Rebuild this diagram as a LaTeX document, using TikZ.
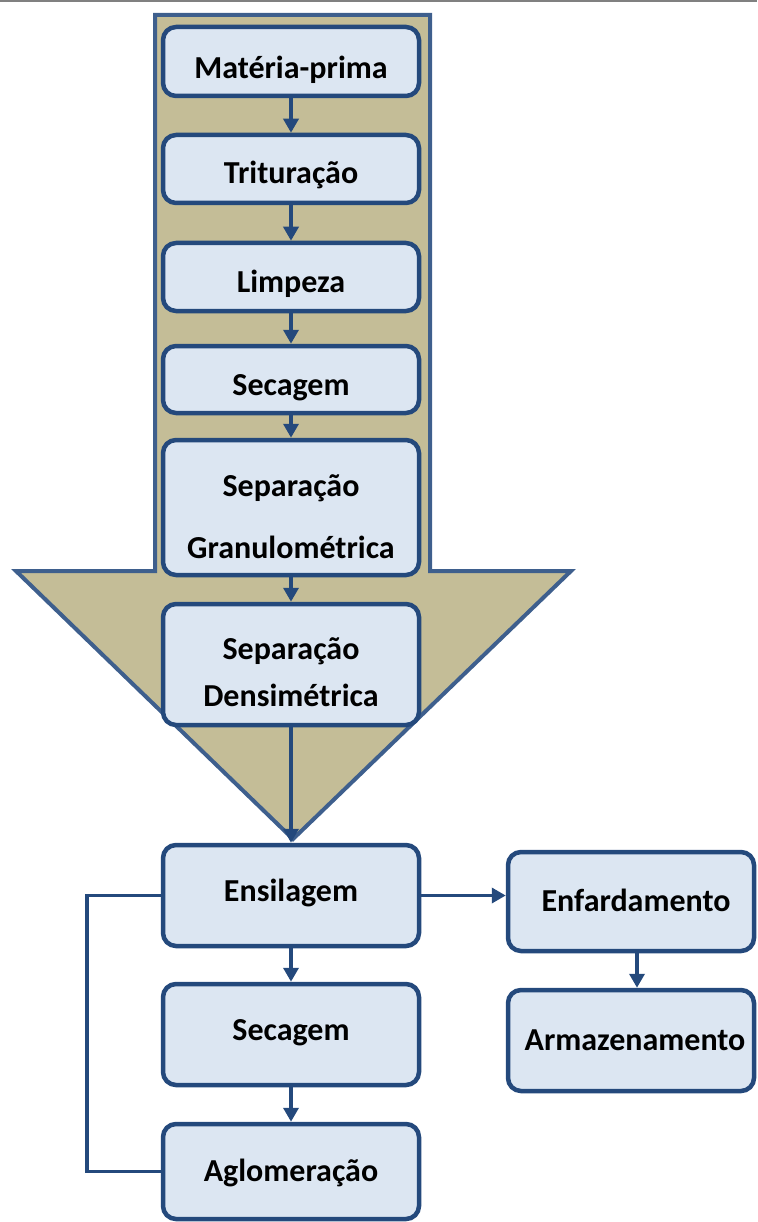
\documentclass[tikz,border=0pt]{standalone}
\usepackage{fontspec}
\setmainfont{Carlito}
\usetikzlibrary{arrows.meta}
\pgfdeclarelayer{bg}
\pgfsetlayers{bg,main}
\definecolor{boxline}{HTML}{24497C}
\definecolor{boxfill}{HTML}{DCE6F2}
\definecolor{bigline}{HTML}{3E5F8D}
\definecolor{bigfill}{HTML}{C4BD97}
\tikzset{
    every node/.style={rectangle, rounded corners=13pt, draw=boxline, fill=boxfill, line width=4.5pt, minimum width=256pt, inner sep=0pt}
}
\tikzset{every label/.style={shape=rectangle, draw=none, fill=none, rounded corners=0pt, minimum width=0pt, minimum height=0pt, align=center, font=\bfseries\fontsize{32}{38}\selectfont}}
\tikzset{flow/.style={draw=boxline, line width=3.5pt, -{Triangle[length=14pt,width=15pt]}}}
\tikzset{loopline/.style={draw=boxline, line width=3.5pt}}

\begin{document}
\begin{tikzpicture}[x=1pt, y=-1pt]
        \useasboundingbox (0,0) rectangle (757,1222);
        \draw [gray, line width=2pt] (0,1) -- (757,1);
        \node (p1) [minimum height=69pt, label={[yshift=-8.5pt]center:Matéria-prima}] at (291, 61.5) {};
        \node (p2) [minimum height=68pt, label={[yshift=-6pt]center:Trituração}] at (291, 169) {};
        \node (p3) [minimum height=68pt, label={[yshift=-7pt]center:Limpeza}] at (291, 277) {};
        \node (p4) [minimum height=67pt, label={[yshift=-8.5pt]center:Secagem}] at (291, 379.5) {};
        \node (p5) [minimum height=135pt, label={[yshift=-9.5pt]center:Separação\\[24pt]Granulométrica}] at (291, 507.5) {};
        \node (p6) [minimum height=121pt, label={[yshift=-8pt]center:Separação\\[9pt]Densimétrica}] at (291, 664.5) {};
        \node (p7) [minimum height=101pt, label={[yshift=2.5pt]center:Ensilagem}] at (291, 895.5) {};
        \node (p8) [minimum height=101pt, label={[yshift=1.5pt]center:Secagem}] at (291, 1034.5) {};
        \node (p9) [minimum height=95pt, label={[yshift=-1pt]center:Aglomeração}] at (291, 1171.5) {};
        \node (p10) [minimum width=246pt, minimum height=99pt, label={[xshift=5pt, yshift=1.5pt]center:Enfardamento}] at (631, 901.5) {};
        \node (p11) [minimum width=246pt, minimum height=101pt, label={[xshift=4pt]center:Armazenamento}] at (631, 1040.5) {};
        \begin{pgfonlayer}{bg}
                \draw [draw=bigline, fill=bigfill, line width=4pt, line join=miter]
                        (155,15) -- (430,15) -- (430,571) -- (571,571) -- (293,839)
                        -- (16,571) -- (155,571) -- cycle;
        \end{pgfonlayer}
        \draw (p1) edge [flow] (p2);
        \draw (p2) edge [flow] (p3);
        \draw (p3) edge [flow] (p4);
        \draw (p4) edge [flow] (p5);
        \draw (p5) edge [flow] (p6);
        \draw (p6) edge [flow] (p7);
        \draw (p7) edge [flow] (p8);
        \draw (p8) edge [flow] (p9);
        \draw [flow] (p7.east) -- (p7.east -| p10.west);
        \draw [flow] ([xshift=6pt]p10.south) -- ([xshift=6pt]p11.north);
        \draw [loopline] (p7.west) -- ++(-74,0) |- (p9.west);
\end{tikzpicture}
\end{document}
